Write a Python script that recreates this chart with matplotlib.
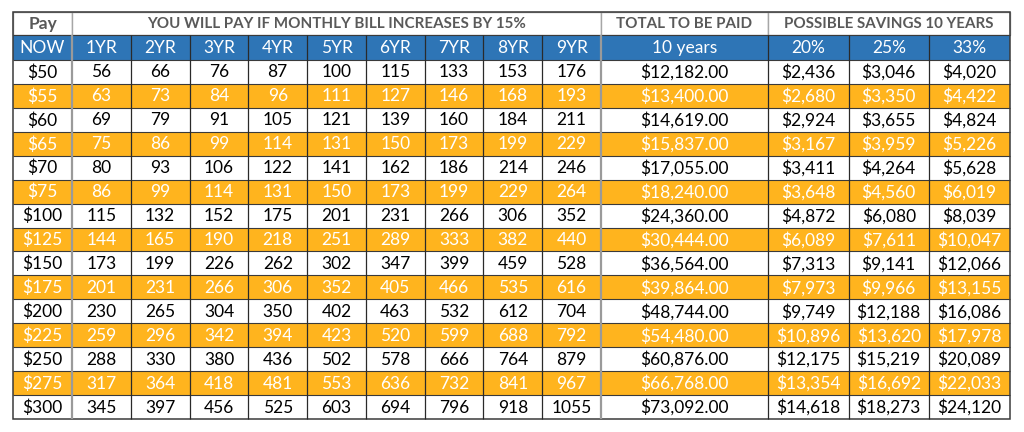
import matplotlib
matplotlib.use("Agg")
from matplotlib import pyplot as plt
from matplotlib.patches import Rectangle

pay_now = [50, 55, 60, 65, 70, 75, 100, 125, 150, 175, 200, 225, 250, 275, 300]
year_labels = ['1YR', '2YR', '3YR', '4YR', '5YR', '6YR', '7YR', '8YR', '9YR']
yearly = [
    [56, 66, 76, 87, 100, 115, 133, 153, 176],
    [63, 73, 84, 96, 111, 127, 146, 168, 193],
    [69, 79, 91, 105, 121, 139, 160, 184, 211],
    [75, 86, 99, 114, 131, 150, 173, 199, 229],
    [80, 93, 106, 122, 141, 162, 186, 214, 246],
    [86, 99, 114, 131, 150, 173, 199, 229, 264],
    [115, 132, 152, 175, 201, 231, 266, 306, 352],
    [144, 165, 190, 218, 251, 289, 333, 382, 440],
    [173, 199, 226, 262, 302, 347, 399, 459, 528],
    [201, 231, 266, 306, 352, 405, 466, 535, 616],
    [230, 265, 304, 350, 402, 463, 532, 612, 704],
    [259, 296, 342, 394, 423, 520, 599, 688, 792],
    [288, 330, 380, 436, 502, 578, 666, 764, 879],
    [317, 364, 418, 481, 553, 636, 732, 841, 967],
    [345, 397, 456, 525, 603, 694, 796, 918, 1055],
]
total_10y = [12182, 13400, 14619, 15837, 17055, 18240, 24360, 30444, 36564,
             39864, 48744, 54480, 60876, 66768, 73092]
save_20 = [2436, 2680, 2924, 3167, 3411, 3648, 4872, 6089, 7313, 7973, 9749,
           10896, 12175, 13354, 14618]
save_25 = [3046, 3350, 3655, 3959, 4264, 4560, 6080, 7611, 9141, 9966, 12188,
           13620, 15219, 16692, 18273]
save_33 = [4020, 4422, 4824, 5226, 5628, 6019, 8039, 10047, 12066, 13155,
           16086, 17978, 20089, 22033, 24120]
saving_labels = ['20%', '25%', '33%']

BLUE = '#2E75B6'
ORANGE = '#FFB41E'
GREY_TXT = '#595959'
FONT = 'Lato'

# column edges (pixels)
x0, x_yr0, x_yr9 = 13, 72, 601
yr_w = (x_yr9 - x_yr0) / 9
col_edges = [x0] + [x_yr0 + i * yr_w for i in range(10)] + [768, 848.5, 929, 1010]
# row edges
y_top, y_h1, y_h2, y_bot = 12, 35, 60, 419
row_h = (y_bot - y_h2) / len(pay_now)

fig = plt.figure(figsize=(10.24, 4.32), dpi=100)
ax = fig.add_axes([0, 0, 1, 1])
ax.set_xlim(0, 1024)
ax.set_ylim(432, 0)
ax.axis('off')

def cell_text(x_l, x_r, y_t, y_b, s, color='black', weight='normal', size=12.5):
    ax.text((x_l + x_r) / 2, (y_t + y_b) / 2 + 0.5, s, ha='center', va='center',
            color=color, fontsize=size, fontweight=weight, family=FONT)

# header row 1
top_groups = [
    (col_edges[0], col_edges[1], 'Pay'),
    (col_edges[1], col_edges[10], 'YOU WILL PAY IF MONTHLY BILL INCREASES BY 15%'),
    (col_edges[10], col_edges[11], 'TOTAL TO BE PAID'),
    (col_edges[11], col_edges[14], 'POSSIBLE SAVINGS 10 YEARS'),
]
for xl, xr, s in top_groups:
    ax.add_patch(Rectangle((xl, y_top), xr - xl, y_h1 - y_top, facecolor='white',
                           edgecolor='#A6A6A6', linewidth=1))
    size = 12.5 if s == 'Pay' else 10.9
    cell_text(xl, xr, y_top, y_h1, s, color=GREY_TXT, weight='bold', size=size)

# header row 2
ax.add_patch(Rectangle((col_edges[0], y_h1), col_edges[-1] - col_edges[0], y_h2 - y_h1,
                       facecolor=BLUE, edgecolor='none'))
sub_labels = ['NOW'] + year_labels + ['10 years'] + saving_labels
for i, s in enumerate(sub_labels):
    cell_text(col_edges[i], col_edges[i + 1], y_h1, y_h2, s, color='white')

# data rows
for r in range(len(pay_now)):
    yt = y_h2 + r * row_h
    yb = yt + row_h
    stripe = r % 2 == 1
    if stripe:
        ax.add_patch(Rectangle((col_edges[0], yt), col_edges[-1] - col_edges[0], row_h,
                               facecolor=ORANGE, edgecolor='none'))
    tc = 'white' if stripe else 'black'
    vals = (['${}'.format(pay_now[r])] + [str(v) for v in yearly[r]]
            + ['${:,.2f}'.format(total_10y[r])]
            + ['${:,}'.format(v) for v in (save_20[r], save_25[r], save_33[r])])
    for i, s in enumerate(vals):
        cell_text(col_edges[i], col_edges[i + 1], yt, yb, s, color=tc)

# grid lines
row_lines = [y_h2 + r * row_h for r in range(1, len(pay_now))]
ax.hlines(row_lines, col_edges[0], col_edges[-1], colors='#3A3A3A', linewidth=0.8)
ax.hlines([y_h1, y_h2], col_edges[0], col_edges[-1], colors='#3A3A3A', linewidth=0.8)
for i, xe in enumerate(col_edges[1:-1], start=1):
    if i in (1, 10):
        ax.vlines(xe, y_h1, y_bot, colors='#9A9A9A', linewidth=1.6)
    else:
        ax.vlines(xe, y_h1, y_bot, colors='#2A2A2A', linewidth=0.9)
ax.add_patch(Rectangle((col_edges[0], y_top), col_edges[-1] - col_edges[0], y_bot - y_top,
                       facecolor='none', edgecolor='#3A3A3A', linewidth=1.1))

fig.savefig('out.png', dpi=100)
plt.close(fig)
